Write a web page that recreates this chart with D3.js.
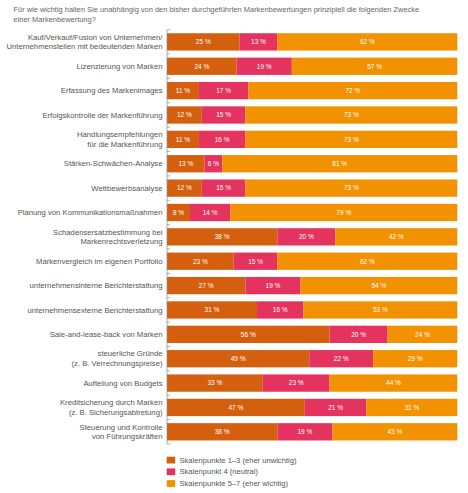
<!DOCTYPE html>
<html>
<head>
<meta charset="utf-8">
<script src="https://cdn.jsdelivr.net/npm/d3@7"></script>
<style>
  html, body { margin: 0; padding: 0; background: #fff; }
  svg { display: block; font-family: "Liberation Sans", Arial, sans-serif; }
</style>
</head>
<body>
<svg id="chart" width="468" height="493"></svg>
<script>
const titleLines = [
  "Für wie wichtig halten Sie unabhängig von den bisher durchgeführten Markenbewertungen prinzipiell die folgenden Zwecke",
  "einer Markenbewertung?"
];
const categories = [
  ["Kauf/Verkauf/Fusion von Unternehmen/", "Unternehmensteilen mit bedeutenden Marken"],
  ["Lizenzierung von Marken"],
  ["Erfassung des Markenimages"],
  ["Erfolgskontrolle der Markenführung"],
  ["Handlungsempfehlungen", "für die Markenführung"],
  ["Stärken-Schwächen-Analyse"],
  ["Wettbewerbsanalyse"],
  ["Planung von Kommunikationsmaßnahmen"],
  ["Schadensersatzbestimmung bei", "Markenrechtsverletzung"],
  ["Markenvergleich im eigenen Portfolio"],
  ["unternehmensinterne Berichterstattung"],
  ["unternehmensexterne Berichterstattung"],
  ["Sale-and-lease-back von Marken"],
  ["steuerliche Gründe", "(z. B. Verrechnungspreise)"],
  ["Aufteilung von Budgets"],
  ["Kreditsicherung durch Marken", "(z. B. Sicherungsabtretung)"],
  ["Steuerung und Kontrolle", "von Führungskräften"]
];
const unwichtig = [25, 24, 11, 12, 11, 13, 12, 8, 38, 23, 27, 31, 56, 49, 33, 47, 38];
const neutral   = [13, 19, 17, 15, 16, 6, 15, 14, 20, 15, 19, 16, 20, 22, 23, 21, 19];
const wichtig   = [62, 57, 72, 73, 73, 81, 73, 79, 42, 62, 54, 53, 24, 29, 44, 31, 43];
const seriesNames = [
  "Skalenpunkte 1–3 (eher unwichtig)",
  "Skalenpunkt 4 (neutral)",
  "Skalenpunkte 5–7 (eher wichtig)"
];
const seriesColors = ["#D4600F", "#E3335E", "#F29200"];

const svg = d3.select("#chart");
const keys = ["a", "b", "c"];
const rows = categories.map((c, i) => ({
  id: i, label: c, a: unwichtig[i], b: neutral[i], c: wichtig[i]
}));

const x0 = 167, x1 = 457.3, yTop = 29.7, yBot = 444;
const x = d3.scaleLinear().domain([0, 1]).range([x0, x1]);
const y = d3.scaleBand().domain(rows.map(r => r.id)).range([yTop, yBot])
  .paddingInner(0.29).paddingOuter(0.145);

// normalize each row to full width
const normRows = rows.map(r => {
  const s = r.a + r.b + r.c;
  return { id: r.id, a: r.a / s, b: r.b / s, c: r.c / s, raw: r };
});
const stack = d3.stack().keys(keys)(normRows);

// title
svg.append("g").selectAll("text").data(titleLines).join("text")
  .attr("x", 13.5).attr("y", (d, i) => 11.5 + i * 10)
  .attr("font-size", 7.45).attr("fill", "#666").text(d => d);

// bars
const layers = svg.append("g").selectAll("g").data(stack).join("g")
  .attr("fill", (d, i) => seriesColors[i]);
layers.selectAll("rect").data(d => d).join("rect")
  .attr("x", d => x(d[0])).attr("width", d => x(d[1]) - x(d[0]))
  .attr("y", d => y(d.data.id)).attr("height", y.bandwidth());

// value labels
stack.forEach((layer, li) => {
  svg.append("g").selectAll("text").data(layer).join("text")
    .attr("x", d => (x(d[0]) + x(d[1])) / 2)
    .attr("y", d => y(d.data.id) + y.bandwidth() / 2 + 2.3)
    .attr("text-anchor", "middle").attr("font-size", 6.5).attr("fill", "#fff")
    .text(d => d.data.raw[keys[li]] + " %");
});

// axis line and ticks at band boundaries
const step = y.step();
const boundaries = d3.range(rows.length + 1).map(i => yTop + i * step);
svg.append("line").attr("x1", x0).attr("x2", x0).attr("y1", yTop).attr("y2", yBot)
  .attr("stroke", "#8a8a8a").attr("stroke-width", 0.7);
svg.append("g").selectAll("line").data(boundaries).join("line")
  .attr("x1", x0).attr("x2", x0 + 3).attr("y1", d => d).attr("y2", d => d)
  .attr("stroke", "#8a8a8a").attr("stroke-width", 0.7);

// category labels
const lab = svg.append("g").selectAll("text").data(rows).join("text")
  .attr("text-anchor", "end").attr("font-size", 7.7).attr("fill", "#555");
lab.each(function(d) {
  const cy = y(d.id) + y.bandwidth() / 2;
  const n = d.label.length;
  d3.select(this).selectAll("tspan").data(d.label).join("tspan")
    .attr("x", 162.5)
    .attr("y", (t, j) => cy + 2.6 + (j - (n - 1) / 2) * 9.7)
    .text(t => t);
});

// legend
const leg = svg.append("g").selectAll("g").data(seriesNames).join("g")
  .attr("transform", (d, i) => `translate(166.7, ${456.7 + i * 11.7})`);
leg.append("rect").attr("width", 8.5).attr("height", 6.8)
  .attr("fill", (d, i) => seriesColors[i]);
leg.append("text").attr("x", 12.8).attr("y", 6)
  .attr("font-size", 7.6).attr("fill", "#555").text(d => d);
</script>
</body>
</html>
